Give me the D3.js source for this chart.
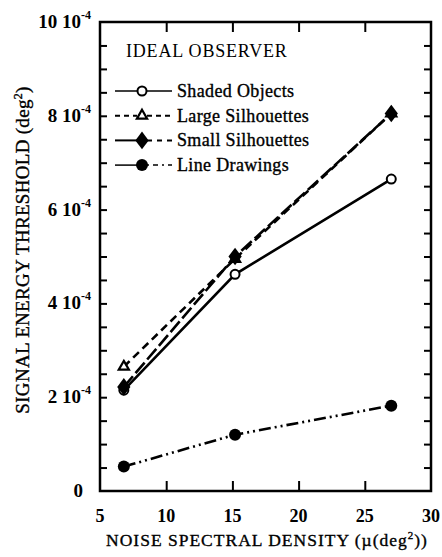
<!DOCTYPE html>
<html>
<head>
<meta charset="utf-8">
<script src="https://cdn.jsdelivr.net/npm/d3@7"></script>
<style>
  body { margin: 0; background: #fff; }
  text { font-family: "Liberation Serif", "DejaVu Serif", serif; fill: #000; }
  .heavy { stroke: #000; stroke-width: 0.35px; }
</style>
</head>
<body>
<div id="wrapper"></div>
<script>
// values in units of 1e-4 deg^2
const noiseDensity = [6.8, 15.2, 27]
const shadedObjects = [2.15, 4.62, 6.65]
const largeSilhouettes = [2.65, 4.95, 8.05]
const smallSilhouettes = [2.22, 5.0, 8.05]
const lineDrawings = [0.52, 1.2, 1.82]
const seriesNames = ["Shaded Objects", "Large Silhouettes", "Small Silhouettes", "Line Drawings"]
const xTicks = [5, 10, 15, 20, 25, 30]
const yTicks = [0, 2, 4, 6, 8, 10]

const seriesValues = [shadedObjects, largeSilhouettes, smallSilhouettes, lineDrawings]
const series = seriesNames.map((name, i) => ({
  name,
  points: noiseDensity.map((x, j) => ({ x, y: seriesValues[i][j] })),
}))
const styles = [
  { dash: null, marker: "circle", left: null, right: null },
  { dash: "8,5", marker: "triangle", left: "5,4", right: "5,4" },
  { dash: "14,4", marker: "diamond", left: null, right: "5,5" },
  { dash: "12,4,2,4,2,4", marker: "dot", left: null, right: "2,4,5,4" },
]

let dimensions = {
  width: 442,
  height: 557,
  margin: { top: 22, right: 11, bottom: 66, left: 100 },
}
dimensions.boundedWidth = dimensions.width - dimensions.margin.left - dimensions.margin.right
dimensions.boundedHeight = dimensions.height - dimensions.margin.top - dimensions.margin.bottom

const svg = d3.select("#wrapper").append("svg")
    .attr("width", dimensions.width)
    .attr("height", dimensions.height)

const bounds = svg.append("g")
    .attr("transform", `translate(${dimensions.margin.left},${dimensions.margin.top})`)

const xScale = d3.scaleLinear().domain([5, 30]).range([0, dimensions.boundedWidth])
const yScale = d3.scaleLinear().domain([0, 10]).range([dimensions.boundedHeight, 0])

// ticks, drawn inside the frame
const minorY = d3.range(0.5, 10, 0.5)
const tickAxis = (gen, transform) => {
  const g = bounds.append("g").attr("transform", transform).call(gen)
  g.select(".domain").remove()
  g.selectAll("line").attr("stroke", "#000").attr("stroke-width", 2)
  g.selectAll("text").remove()
  return g
}
tickAxis(d3.axisLeft(yScale).tickValues(minorY).tickSize(-7), "")
tickAxis(d3.axisRight(yScale).tickValues(minorY).tickSize(-7), `translate(${dimensions.boundedWidth},0)`)
tickAxis(d3.axisBottom(xScale).tickValues(xTicks.slice(1, -1)).tickSize(-10), `translate(0,${dimensions.boundedHeight})`)
tickAxis(d3.axisTop(xScale).tickValues(xTicks.slice(1, -1)).tickSize(-10), "")

// frame
bounds.append("rect")
    .attr("width", dimensions.boundedWidth)
    .attr("height", dimensions.boundedHeight)
    .attr("fill", "none")
    .attr("stroke", "#000")
    .attr("stroke-width", 2.5)

// tick labels
const yLabels = svg.append("g")
  .selectAll("text")
  .data(yTicks)
  .enter().append("text")
    .attr("x", d => d === 0 ? 83 : 91)
    .attr("y", d => dimensions.margin.top + yScale(d) + 6)
    .attr("text-anchor", "end")
    .style("font-size", "19px")
    .style("font-weight", "bold")
yLabels.append("tspan").text(d => d === 0 ? "0" : `${d} 10`)
yLabels.filter(d => d !== 0).append("tspan")
    .attr("dy", -9)
    .style("font-size", "12px")
    .text("-4")

svg.append("g")
  .selectAll("text")
  .data(xTicks)
  .enter().append("text")
    .attr("x", d => dimensions.margin.left + xScale(d))
    .attr("y", 522)
    .attr("text-anchor", "middle")
    .style("font-size", "18px")
    .style("font-weight", "bold")
    .text(d => d)

// axis titles
const xTitle = svg.append("text")
    .attr("class", "heavy")
    .attr("x", 267)
    .attr("y", 546)
    .attr("text-anchor", "middle")
    .style("font-size", "17.5px")
    .style("letter-spacing", "1px")
xTitle.append("tspan").text("NOISE  SPECTRAL  DENSITY  (µ(deg")
xTitle.append("tspan").attr("dy", -7).style("font-size", "11px").text("2")
xTitle.append("tspan").attr("dy", 7).text("))")

const yTitle = svg.append("text")
    .attr("class", "heavy")
    .attr("transform", "translate(29,250) rotate(-90)")
    .attr("text-anchor", "middle")
    .style("font-size", "19px")
    .style("letter-spacing", "0.3px")
yTitle.append("tspan").text("SIGNAL ENERGY THRESHOLD (deg")
yTitle.append("tspan").attr("dy", -7).style("font-size", "12px").text("2")
yTitle.append("tspan").attr("dy", 7).text(")")

// data lines
const lineGenerator = d3.line()
  .x(d => xScale(d.x))
  .y(d => yScale(d.y))

bounds.selectAll(".line")
  .data(series)
  .enter().append("path")
    .attr("class", "line")
    .attr("d", d => lineGenerator(d.points))
    .attr("fill", "none")
    .attr("stroke", "#000")
    .attr("stroke-width", 2.6)
    .attr("stroke-dasharray", (d, i) => styles[i].dash)

const drawMarker = (g, type, x, y) => {
  if (type === "circle") {
    g.append("circle").attr("cx", x).attr("cy", y).attr("r", 4.5)
      .attr("fill", "#fff").attr("stroke", "#000").attr("stroke-width", 2)
  } else if (type === "triangle") {
    g.append("path").attr("d", d3.symbol(d3.symbolTriangle, 45)())
      .attr("transform", `translate(${x},${y})`)
      .attr("fill", "#fff").attr("stroke", "#000").attr("stroke-width", 2.2)
  } else if (type === "diamond") {
    g.append("path").attr("d", d3.symbol(d3.symbolDiamond, 90)())
      .attr("transform", `translate(${x},${y}) scale(1.3,1)`)
      .attr("fill", "#000")
  } else {
    g.append("circle").attr("cx", x).attr("cy", y).attr("r", 6).attr("fill", "#000")
  }
}

const markers = bounds.append("g")
series.forEach((s, i) => {
  s.points.forEach(p => drawMarker(markers, styles[i].marker, xScale(p.x), yScale(p.y)))
})

// legend
const legend = svg.append("g")
legend.append("text")
    .attr("x", 126)
    .attr("y", 57)
    .style("font-size", "18px")
    .style("letter-spacing", "0.8px")
    .text("IDEAL OBSERVER")

series.forEach((s, i) => {
  const y = 91 + i * 24.7
  const w = i === 0 || i === 3 ? 1.5 : 2
  legend.append("line")
      .attr("x1", 115).attr("x2", 137)
      .attr("y1", y).attr("y2", y)
      .attr("stroke", "#000")
      .attr("stroke-width", w)
      .attr("stroke-dasharray", styles[i].left)
  legend.append("line")
      .attr("x1", 147).attr("x2", 172)
      .attr("y1", y).attr("y2", y)
      .attr("stroke", "#000")
      .attr("stroke-width", w)
      .attr("stroke-dasharray", styles[i].right)
  drawMarker(legend, styles[i].marker, 142, y)
  legend.append("text")
      .attr("class", "heavy")
      .attr("x", 177)
      .attr("y", y + 6)
      .style("font-size", "18px")
      .style("letter-spacing", "0.35px")
      .text(s.name)
})
</script>
</body>
</html>
